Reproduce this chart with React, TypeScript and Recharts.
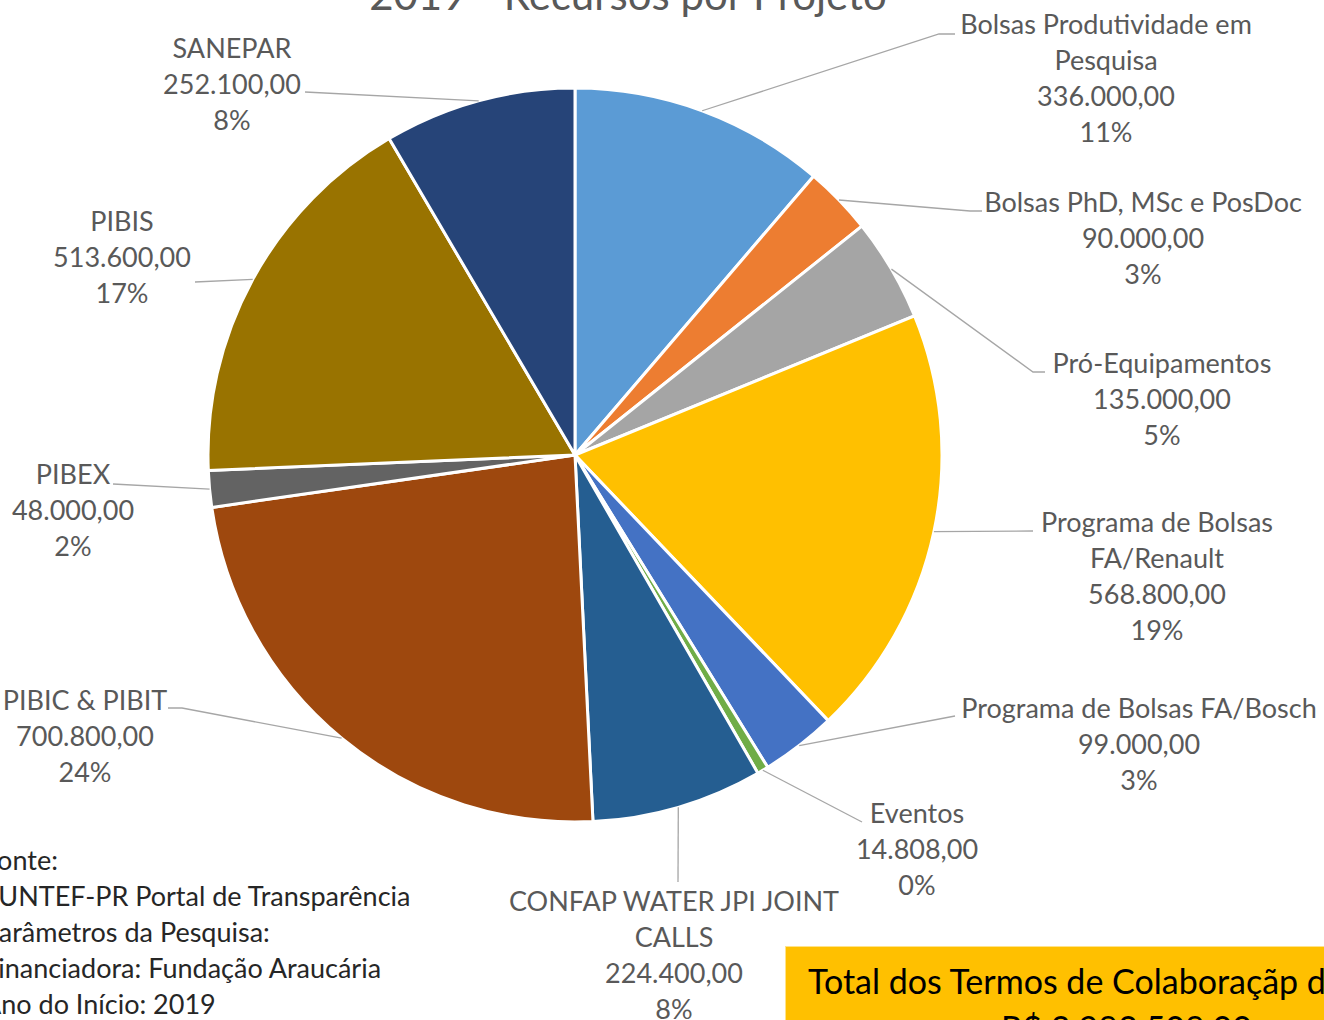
import { PieChart, Pie, Cell } from 'recharts';

const projetos = [
  'Bolsas Produtividade em Pesquisa',
  'Bolsas PhD, MSc e PosDoc',
  'Pró-Equipamentos',
  'Programa de Bolsas FA/Renault',
  'Programa de Bolsas FA/Bosch',
  'Eventos',
  'CONFAP WATER JPI JOINT CALLS',
  'PIBIC & PIBIT',
  'PIBEX',
  'PIBIS',
  'SANEPAR',
];

const valores = [336000, 90000, 135000, 568800, 99000, 14808, 224400, 700800, 48000, 513600, 252100];

// how the name is wrapped in each data label
const linhasRotulo = [
  ['Bolsas Produtividade em', 'Pesquisa'],
  ['Bolsas PhD, MSc e PosDoc'],
  ['Pró-Equipamentos'],
  ['Programa de Bolsas', 'FA/Renault'],
  ['Programa de Bolsas FA/Bosch'],
  ['Eventos'],
  ['CONFAP WATER JPI JOINT', 'CALLS'],
  ['PIBIC & PIBIT'],
  ['PIBEX'],
  ['PIBIS'],
  ['SANEPAR'],
];

const cores = ['#5B9BD5', '#ED7D31', '#A5A5A5', '#FFC000', '#4472C4', '#70AD47', '#255E91', '#9E480E', '#636363', '#997300', '#264478'];

const fonteLinhas = [
  'Fonte:',
  'FUNTEF-PR Portal de Transparência',
  'Parâmetros da Pesquisa:',
  'Financiadora: Fundação Araucária',
  'Ano do Início: 2019',
];

// label placement relative to pie centre: text centre (tx, ty) and leader end (lx, ly)
const posRotulo = [
  { tx: 531, ty: -432, lx: 380, ly: -421, tail: 16 },
  { tx: 568, ty: -254, lx: 407, ly: -244, tail: 12 },
  { tx: 587, ty: -93, lx: 470, ly: -83, tail: 12 },
  { tx: 582, ty: 66, lx: 458, ly: 76, tail: 0 },
  { tx: 564, ty: 252, lx: 380, ly: 261, tail: 0 },
  { tx: 342, ty: 357, lx: 287, ly: 367, tail: 0 },
  { tx: 99, ty: 445, lx: 103, ly: 427, tail: 0 },
  { tx: -490, ty: 244, lx: -407, ly: 253, tail: -14 },
  { tx: -502, ty: 18, lx: -462, ly: 29, tail: 0 },
  { tx: -453, ty: -235, lx: -380, ly: -173, tail: 0 },
  { tx: -343, ty: -408, lx: -270, ly: -363, tail: 0 },
];

const total = valores.reduce((a, b) => a + b, 0);

// Excel rounds pie percentages so they add up to 100 (largest remainder)
const pcts = (() => {
  const raw = valores.map(v => (v / total) * 100);
  const out = raw.map(Math.floor);
  const falta = 100 - out.reduce((a, b) => a + b, 0);
  const ordem = raw.map((r, i) => ({ i, rest: r - Math.floor(r) })).sort((a, b) => b.rest - a.rest);
  for (let k = 0; k < falta; k++) out[ordem[k].i] += 1;
  return out;
})();

const fmt = (v: number) => {
  const s = Math.round(v).toString().replace(/\B(?=(\d{3})+(?!\d))/g, '.');
  return `${s},00`;
};

const data = projetos.map((p, i) => ({ name: p, value: valores[i] }));

const FONT = 'Lato, "Open Sans", sans-serif';
const LH = 36;
const RAD = Math.PI / 180;

function Rotulo(props: any) {
  const { cx, cy, midAngle, outerRadius, index } = props;
  const pos = posRotulo[index];
  const sx = cx + outerRadius * Math.cos(-midAngle * RAD);
  const sy = cy + outerRadius * Math.sin(-midAngle * RAD);
  const ex = cx + pos.lx;
  const ey = cy + pos.ly;
  const linhas = [...linhasRotulo[index], fmt(valores[index]), `${pcts[index]}%`];
  const pts = pos.tail ? `${sx},${sy} ${ex - pos.tail},${ey} ${ex},${ey}` : `${sx},${sy} ${ex},${ey}`;
  return (
    <g>
      <polyline points={pts} fill="none" stroke="#A6A6A6" strokeWidth={1.3} />
      {linhas.map((t, k) => (
        <text
          key={k}
          x={cx + pos.tx}
          y={cy + pos.ty + k * LH}
          textAnchor="middle"
          dominantBaseline="central"
          fill="#595959"
          fontSize={27}
          fontFamily={FONT}
        >
          {t}
        </text>
      ))}
    </g>
  );
}

export default function App() {
  return (
    <div style={{ position: 'absolute', left: 0, top: 0, width: 1324, height: 1020, overflow: 'hidden', background: '#fff', fontFamily: FONT }}>
      <div style={{ position: 'absolute', left: 0, top: -31, width: 1256, textAlign: 'center', fontSize: 42, color: '#595959', whiteSpace: 'nowrap' }}>
        2019 - Recursos por Projeto
      </div>
      <PieChart width={1324} height={1020} margin={{ top: 0, right: 0, bottom: 0, left: 0 }} style={{ position: 'absolute', left: 0, top: 0 }}>
        <Pie
          data={data}
          dataKey="value"
          nameKey="name"
          cx={575}
          cy={455}
          outerRadius={367}
          startAngle={90}
          endAngle={-270}
          stroke="#fff"
          strokeWidth={3}
          label={Rotulo}
          labelLine={false}
          isAnimationActive={false}
        >
          {data.map((d, i) => (
            <Cell key={d.name} fill={cores[i]} />
          ))}
        </Pie>
      </PieChart>
      <div style={{ position: 'absolute', left: -17, top: 842, fontSize: 27, lineHeight: '36px', color: '#262626', whiteSpace: 'nowrap' }}>
        {fonteLinhas.map(l => (
          <div key={l}>{l}</div>
        ))}
      </div>
      <div style={{ position: 'absolute', left: 785, top: 946, width: 700, height: 120, background: '#FFC000', borderTop: '1px solid #FFE38A', borderLeft: '1px solid #FFE38A' }}>
        <div style={{ position: 'absolute', left: 22, top: 13, fontSize: 34, color: '#000', whiteSpace: 'nowrap' }}>
          Total dos Termos de Colaboraçãp de Pesquisa
        </div>
        <div style={{ position: 'absolute', left: 215, top: 60, fontSize: 34, color: '#000', whiteSpace: 'nowrap' }}>
          R$ 2.983.508,00
        </div>
      </div>
    </div>
  );
}
